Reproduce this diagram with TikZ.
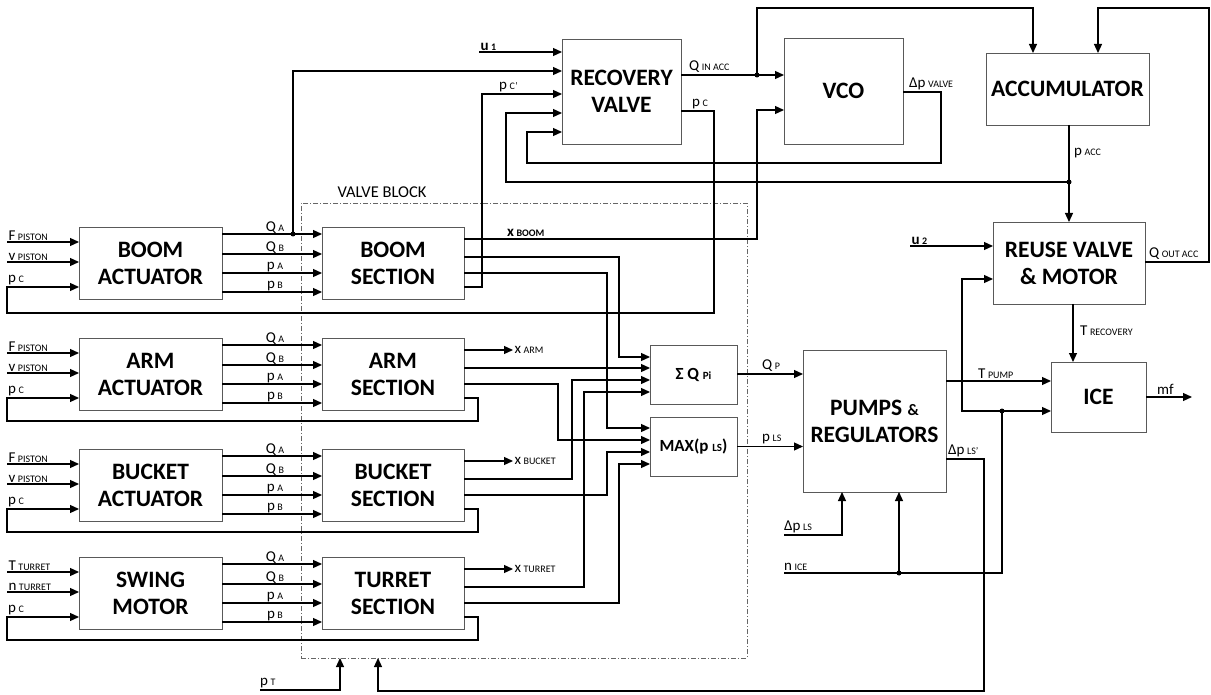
\documentclass[tikz,border=0pt]{standalone}
\usepackage{fontspec}
\setmainfont{Carlito}
\usetikzlibrary{arrows.meta}
\newcommand{\sbs}[1]{\hspace{2.5pt}{\fontsize{10}{11}\selectfont #1}}
\begin{document}
\begin{tikzpicture}[x=1pt,y=-1pt,
  box/.style={draw=black!65, line width=0.9pt, inner sep=0pt, outer sep=0pt, align=center, font=\fontsize{23.5}{27}\selectfont\bfseries},
  sbox/.style={box, font=\fontsize{17}{18}\selectfont\bfseries},
  vblock/.style={draw=black!60, line width=0.7pt, dash pattern=on 5pt off 2pt on 1pt off 2pt, inner sep=0pt, outer sep=0pt},
  wire/.style={line width=1.2pt, black},
  arr/.style={wire, -{Triangle[length=9pt,width=8pt]}},
  dot/.style={circle, fill=black, inner sep=0pt, minimum size=5pt},
  lbl/.style={font=\fontsize{15}{16}\selectfont, inner sep=1pt},
  blbl/.style={lbl, font=\fontsize{15}{16}\selectfont\bfseries},
]
\useasboundingbox (0,0) rectangle (1211,695);

% valve block
\node[vblock, minimum width=446pt, minimum height=455pt] (vb) at (524,430.5) {};
\node[font=\fontsize{16.5}{17}\selectfont] (vbl) at (382,192) {VALVE BLOCK};

% actuators and sections
\node[box, minimum width=143pt, minimum height=72pt] (bact) at (150.5,263) {BOOM\\ACTUATOR};
\node[box, minimum width=143pt, minimum height=72pt] (aact) at (150.5,374) {ARM\\ACTUATOR};
\node[box, minimum width=143pt, minimum height=72pt] (kact) at (150.5,485) {BUCKET\\ACTUATOR};
\node[box, minimum width=143pt, minimum height=72pt] (swm) at (150.5,593) {SWING\\MOTOR};
\node[box, minimum width=142pt, minimum height=72pt] (bsec) at (393,263) {BOOM\\SECTION};
\node[box, minimum width=142pt, minimum height=72pt] (asec) at (393,374) {ARM\\SECTION};
\node[box, minimum width=142pt, minimum height=72pt] (ksec) at (393,485) {BUCKET\\SECTION};
\node[box, minimum width=142pt, minimum height=72pt] (tsec) at (393,593) {TURRET\\SECTION};

% other blocks
\node[box, minimum width=119pt, minimum height=105pt] (rv) at (621.5,91.5) {RECOVERY\\VALVE};
\node[box, minimum width=119pt, minimum height=106pt] (vco) at (843.5,91) {VCO};
\node[box, minimum width=163pt, minimum height=72pt] (acc) at (1067.5,89) {ACCUMULATOR};
\node[box, minimum width=152pt, minimum height=82pt] (reuse) at (1069,263) {REUSE VALVE\\\& MOTOR};
\node[box, minimum width=95pt, minimum height=70pt] (ice) at (1098.5,397) {ICE};
\node[box, minimum width=143pt, minimum height=142pt] (pump) at (874.5,421) {PUMPS {\fontsize{16}{16}\selectfont\&}\\REGULATORS};
\node[sbox, minimum width=87pt, minimum height=59pt] (sq) at (693.5,374.5) {Σ Q {\fontsize{11}{11}\selectfont Pi}};
\node[sbox, minimum width=87pt, minimum height=59pt] (mx) at (693.5,446.5) {MAX(p {\fontsize{11}{11}\selectfont LS})};

% actuator inputs and actuator -> section lines
\foreach \A/\S/\T/\la/\lb/\sub in {bact/bsec/227/F/v/PISTON, aact/asec/338/F/v/PISTON, kact/ksec/449/F/v/PISTON, swm/tsec/557/T/n/TURRET}{
  \pgfmathsetmacro\ya{\T+15}
  \pgfmathsetmacro\yb{\T+35}
  \pgfmathsetmacro\yc{\T+60}
  \draw[arr] (7,\ya) node[lbl,anchor=south west]{\la\sbs{\sub}} -- (\A.west |- 0,\ya);
  \draw[arr] (7,\yb) node[lbl,anchor=south west]{\lb\sbs{\sub}} -- (\A.west |- 0,\yb);
  \node[lbl,anchor=south west] at (7,\yc-1) {p\sbs{C}};
  \foreach \o/\m/\s in {7/Q/A, 27/Q/B, 46/p/A, 65/p/B}{
    \pgfmathsetmacro\yo{\T+\o}
    \draw[arr] (\A.east |- 0,\yo) -- node[lbl,above,inner sep=0pt,xshift=3pt]{\m\sbs{\s}} (\S.west |- 0,\yo);
  }
}

% section feedback loops (pc)
\foreach \A/\S/\T in {aact/asec/338, kact/ksec/449, swm/tsec/557}{
  \pgfmathsetmacro\yc{\T+60}
  \pgfmathsetmacro\yl{\T+83}
  \draw[arr] (\S.east |- 0,\yc) -| (478,\yl) -| (7,\yc) -- (\A.west |- 0,\yc);
}

% boom section outputs
\draw[arr] (bsec.east |- 0,239) -| (757,110) -- (vco.west |- 0,110);
\node[blbl,anchor=south west] (xboom) at (506,238) {x\sbs{BOOM}};
\draw[arr] (bsec.east |- 0,257) -| (619,357) -- (sq.west |- 0,357);
\draw[arr] (bsec.east |- 0,273) -| (607,428) -- (mx.west |- 0,428);
\draw[arr] (bsec.east |- 0,287) -| (482,94) -- (rv.west |- 0,94);
\node[lbl,anchor=south west] (pcp) at (498,93) {p\sbs{C'}};

% arm section outputs
\draw[arr] (asec.east |- 0,350) -- (513,350) node[lbl,anchor=west]{x\sbs{ARM}};
\draw[arr] (asec.east |- 0,368) -- (sq.west |- 0,368);
\draw[arr] (asec.east |- 0,384) -| (558,440) -- (mx.west |- 0,440);

% bucket section outputs
\draw[arr] (ksec.east |- 0,461) -- (513,461) node[lbl,anchor=west]{x\sbs{BUCKET}};
\draw[arr] (ksec.east |- 0,479) -| (572,380) -- (sq.west |- 0,380);
\draw[arr] (ksec.east |- 0,495) -| (607,452) -- (mx.west |- 0,452);

% turret section outputs
\draw[arr] (tsec.east |- 0,569) -- (513,569) node[lbl,anchor=west]{x\sbs{TURRET}};
\draw[arr] (tsec.east |- 0,587) -| (584,392) -- (sq.west |- 0,392);
\draw[arr] (tsec.east |- 0,603) -| (619,464) -- (mx.west |- 0,464);

% boom QA tap to recovery valve
\node[dot] (d1) at (293,234) {};
\draw[arr] (d1.center) |- (rv.west |- 0,71);

% u1
\draw[arr] (479,52) node[blbl,anchor=south west]{u\sbs{1}} -- (rv.west |- 0,52);

% recovery valve pc -> boom actuator
\draw[arr] (rv.east |- 0,111) -| (714,313) -| (7,287) -- (bact.west |- 0,287);
\node[lbl,anchor=south west] (pcl) at (691,110) {p\sbs{C}};

% Q in acc
\draw[arr] (rv.east |- 0,75) -- (vco.west |- 0,75);
\node[lbl,anchor=south west] (qin) at (688,74) {Q\sbs{IN ACC}};
\node[dot] (d2) at (757,75) {};
\draw[arr] (d2.center) |- (1033,8) -- (acc.north -| 1033,0);

% VCO delta p valve -> recovery valve
\draw[arr] (vco.east |- 0,92) -| (941,163) -| (527,132) -- (rv.west |- 0,132);
\node[lbl,anchor=south west] (dpv) at (908,91) {Δp\sbs{VALVE}};

% accumulator p_acc
\draw[arr] (acc.south -| 1069,0) -- (reuse.north -| 1069,0);
\node[lbl,anchor=west] (pacc) at (1073,153) {p\sbs{ACC}};
\node[dot] (d3) at (1069,182) {};
\draw[arr] (d3.center) -| (506,113) -- (rv.west |- 0,113);

% reuse valve
\draw[arr] (reuse.east |- 0,262) -| (1209,8) -| (acc.north -| 1098,0);
\node[lbl,anchor=south west] (qout) at (1148,261) {Q\sbs{OUT ACC}};
\draw[arr] (910,246) node[blbl,anchor=south west]{u\sbs{2}} -- (reuse.west |- 0,246);
\draw[arr] (reuse.south -| 1073,0) -- (ice.north -| 1073,0);
\node[lbl,anchor=west] (trec) at (1079,331) {T\sbs{RECOVERY}};

% ICE
\draw[arr] (ice.east |- 0,397) -- (1192,397);
\node[lbl,anchor=south west] (mf) at (1156,396) {mf};
\draw[arr] (pump.east |- 0,381) -- (ice.west |- 0,381);
\node[lbl,anchor=south west] (tpump) at (977,380) {T\sbs{PUMP}};

% n ICE
\draw[wire] (784,573) -| (1002,411);
\node[lbl,anchor=south west] (nice) at (783,572) {n\sbs{ICE}};
\node[dot] (d4) at (899,573) {};
\node[dot] (d5) at (1002,411) {};
\draw[arr] (d4.center) -- (pump.south -| 899,0);
\draw[arr] (d5.center) -- (ice.west |- 0,411);
\draw[arr] (d5.center) -| (962,279) -- (reuse.west |- 0,279);

% delta p LS
\draw[arr] (784,535) -| (pump.south -| 842,0);
\node[lbl,anchor=south west] (dpls) at (783,534) {Δp\sbs{LS}};

% Q_P, p_LS
\draw[arr] (sq.east |- 0,374) -- (pump.west |- 0,374);
\node[lbl,anchor=south west] (qp) at (761,373) {Q\sbs{P}};
\draw[arr] (mx.east) -- (pump.west |- mx.east);
\node[lbl,anchor=south west] (pls) at (761,445) {p\sbs{LS}};

% delta p LS' back to valve block
\draw[arr] (pump.east |- 0,459) -| (984,691) -| (vb.south -| 378,0);
\node[lbl,anchor=south west] (dplsp) at (947,458) {Δp\sbs{LS'}};

% p_T
\draw[arr] (260,690) -| (vb.south -| 340,0);
\node[lbl,anchor=south west] (pt) at (259,689) {p\sbs{T}};
\end{tikzpicture}
\end{document}
